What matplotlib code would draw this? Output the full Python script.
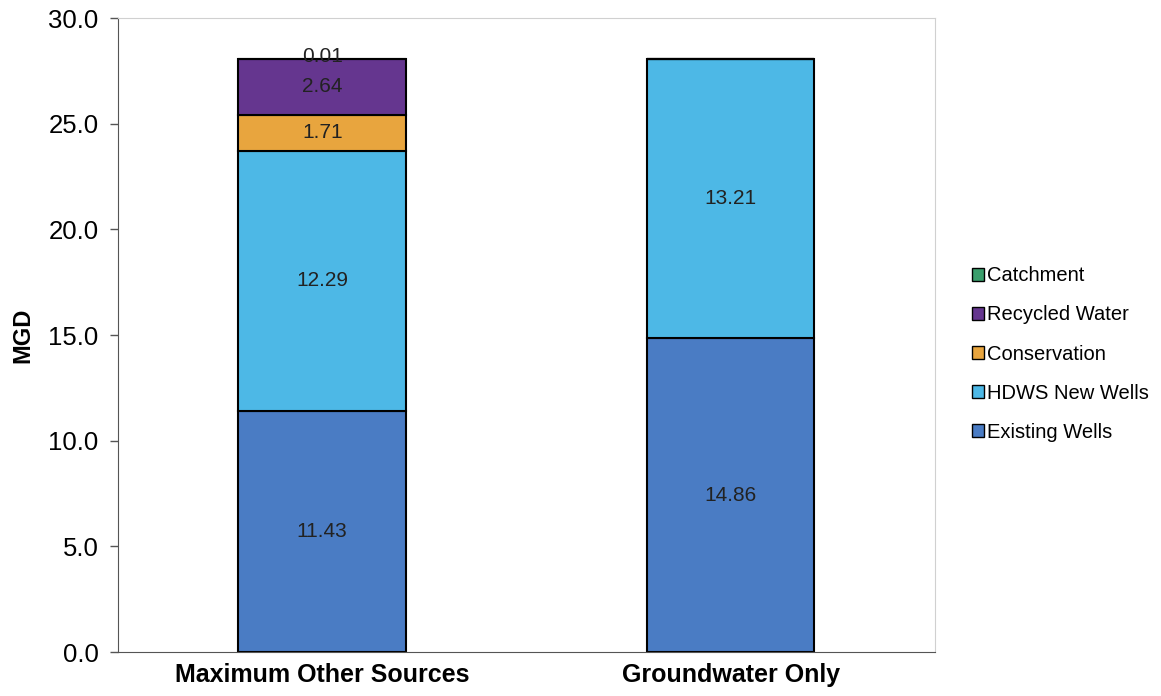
import numpy as np
import matplotlib.pyplot as plt
from matplotlib.patches import Patch

plt.rcParams['font.family'] = ['Liberation Sans', 'DejaVu Sans']

scenarios = ["Maximum Other Sources", "Groundwater Only"]
sources = ["Existing Wells", "HDWS New Wells", "Conservation", "Recycled Water", "Catchment"]
existing_wells = [11.43, 14.86]
hdws_new_wells = [12.29, 13.21]
conservation = [1.71, 0.0]
recycled_water = [2.64, 0.0]
catchment = [0.01, 0.0]

series = [existing_wells, hdws_new_wells, conservation, recycled_water, catchment]
colors = ["#4a7cc4", "#4db8e6", "#e8a53e", "#65368f", "#3a9e6c"]

fig = plt.figure(figsize=(11.61, 6.96), dpi=100)
ax = fig.add_axes([0.1016, 0.0632, 0.7037, 0.9106])

x = np.arange(len(scenarios))
bottom = np.zeros(len(scenarios))
for vals, col, name in zip(series, colors, sources):
    vals = np.array(vals)
    ax.bar(x, vals, width=0.41, bottom=bottom, color=col, edgecolor="black",
           linewidth=1.5, label=name)
    for i, v in enumerate(vals):
        if v <= 0:
            continue
        if v < 0.5:
            # tiny segment: label sits on the bar top
            y = bottom[i] + v + 0.1
        else:
            y = bottom[i] + v / 2
        ax.text(x[i], y, f"{v:.2f}", ha="center", va="center", fontsize=15, color="#222222")
    bottom += vals

ax.set_xlim(-0.5, 1.5)
ax.set_ylim(0, 30)
ticks = np.arange(0, 30.1, 5)
ax.set_yticks(ticks)
ax.set_yticklabels([f"{t:.1f}" for t in ticks], fontsize=18.5)
ax.set_xticks(x)
ax.set_xticklabels(scenarios, fontsize=18, fontweight="bold")
ax.tick_params(axis="x", length=0, pad=8)
ax.tick_params(axis="y", length=6, width=1, direction="out", color="#555555", pad=8)
ax.set_ylabel("MGD", fontsize=17, fontweight="bold", labelpad=10)

for s in ["top", "right"]:
    ax.spines[s].set_color("#d0d0d0")
    ax.spines[s].set_linewidth(0.8)
ax.spines["left"].set_color("#555555")
ax.spines["bottom"].set_color("#555555")

handles = [Patch(facecolor=c, edgecolor="black", label=n) for c, n in zip(colors, sources)]
ax.legend(handles[::-1], sources[::-1], loc="center left", bbox_to_anchor=(1.035, 0.47),
          frameon=False, fontsize=14.5, handlelength=0.6, handleheight=0.6,
          handletextpad=0.15, labelspacing=1.0, borderaxespad=0)

fig.savefig("out.png", dpi=100)
